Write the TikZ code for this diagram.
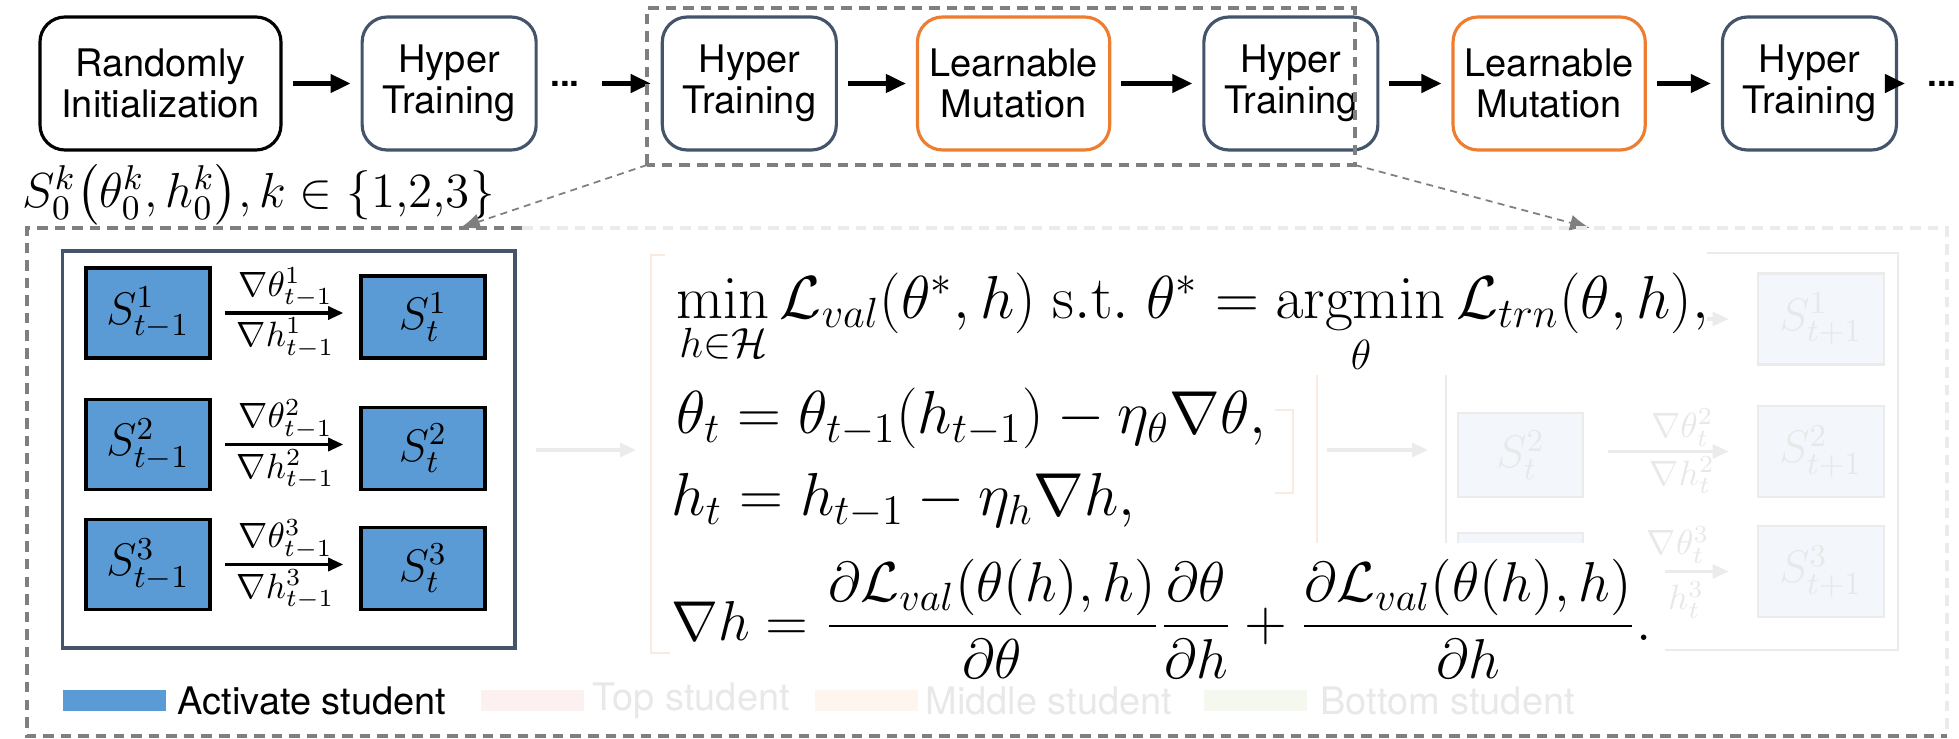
\RequirePackage{fix-cm}
\documentclass[tikz,border=0pt]{standalone}
\usepackage{amsmath}
\usepackage[no-math]{fontspec}
\setmainfont{TeX Gyre Heros}
\usetikzlibrary{arrows.meta,positioning}

\definecolor{slate}{HTML}{44546A}
\definecolor{mutorange}{HTML}{ED7D31}
\definecolor{stublue}{HTML}{5B9BD5}
\definecolor{framegray}{HTML}{7F7F7F}
\definecolor{fadeline}{HTML}{EBEBEB}
\definecolor{fadetext}{HTML}{E8E8E8}
\definecolor{fadeblue}{HTML}{F3F6FA}
\definecolor{fadeorange}{HTML}{FBEADF}
\definecolor{fadecream}{HTML}{FEF6EE}
\definecolor{fadepink}{HTML}{FDF0F0}
\definecolor{fadegreen}{HTML}{F4F8EF}

\tikzset{
  stage/.style={draw=slate, line width=0.9pt, rounded corners=2.5mm,
    minimum width=1.74cm, minimum height=1.33cm, align=center,
    font=\fontsize{10.8}{11.6}\selectfont},
  mutate/.style={stage, draw=mutorange},
  flow/.style={-{Triangle[length=2mm,width=1.8mm]}, line width=1.2pt,
    shorten <=1mm, shorten >=1mm},
  student/.style={draw=black, line width=1pt, fill=stublue,
    minimum width=1.24cm, font=\fontsize{13}{15}\selectfont},
  grad/.style={-{Triangle[length=1.5mm,width=1.3mm]}, line width=0.9pt,
    shorten <=1.3mm, shorten >=1.6mm},
  gradlbl/.style={font=\fontsize{10}{12}\selectfont, inner sep=1pt},
  zoomline/.style={framegray, line width=0.5pt, dash pattern=on 2pt off 1.5pt,
    -{Latex[length=2mm,width=1.6mm]}},
  frameline/.style={framegray, line width=0.9pt, dash pattern=on 3pt off 2pt},
  ghost/.style={draw=fadeline, line width=0.8pt, fill=fadeblue,
    minimum width=1.26cm, minimum height=0.91cm, text=fadetext,
    font=\fontsize{13}{15}\selectfont},
  fadearrow/.style={-{Triangle[length=1.6mm,width=1.4mm]}, fadeline, line width=0.9pt},
  keybox/.style={minimum width=1.03cm, minimum height=0.21cm, inner sep=0pt},
  keylbl/.style={inner sep=0pt, font=\fontsize{10.8}{12}\selectfont},
  eqline/.style={anchor=base west, inner sep=0pt, font=\fontsize{17.28}{20}\selectfont},
}

\begin{document}
\begin{tikzpicture}
  \useasboundingbox (0,0) rectangle (19.59,7.38);

  % training pipeline
  \node[stage, draw=black, minimum width=2.41cm] (init) at (1.605,6.545) {Randomly\\Initialization};
  \node[stage, right=0.78cm of init] (ht1) {Hyper\\Training};
  \node[font=\bfseries] (dots1) at (5.65,6.545) {...};
  \node[stage, right=1.23cm of ht1] (ht2) {Hyper\\Training};
  \node[mutate, right=0.78cm of ht2] (lm1) {Learnable\\Mutation};
  \node[stage, right=0.91cm of lm1] (ht3) {Hyper\\Training};
  \node[mutate, right=0.72cm of ht3] (lm2) {Learnable\\Mutation};
  \node[stage, right=0.74cm of lm2] (ht4) {Hyper\\Training};
  \node[font=\bfseries] (dots2) at (19.42,6.545) {...};
  \draw[flow] (init) -- (ht1);
  \draw[flow] (dots1) -- (ht2);
  \draw[flow] (ht2) -- (lm1);
  \draw[flow] (lm1) -- (ht3);
  \draw[flow] (ht3) -- (lm2);
  \draw[flow] (lm2) -- (ht4);
  \draw[flow] (ht4) -- (dots2);
  \node[anchor=west, font=\fontsize{14}{16}\selectfont] (init0) at (0.10,5.43)
    {$S^k_0\bigl(\theta^k_0,h^k_0\bigr),k\in\{1{,}2{,}3\}$};

  % zoomed step
  \draw[frameline] (6.47,5.73) coordinate (zsw) rectangle (13.55,7.30);
  \coordinate (zse) at (13.55,5.73);
  \coordinate (bigl) at (4.60,5.10);
  \coordinate (bigr) at (15.90,5.10);
  \draw[zoomline] (zsw) -- (bigl);
  \draw[zoomline] (zse) -- (bigr);
  \draw[frameline] (5.22,5.10) -- (0.27,5.10) -- (0.27,0.02) -- (19.47,0.02);
  \draw[frameline, fadeline] (5.22,5.10) -- (19.47,5.10) -- (19.47,0.02);

  % active students
  \draw[slate, line width=0.9pt] (0.625,0.90) rectangle (5.15,4.87);
  \node[student, minimum height=0.90cm] (a1) at (1.48,4.25) {$S^1_{t-1}$};
  \node[student, minimum height=0.82cm] (b1) at (4.23,4.21) {$S^1_t$};
  \node[student, minimum height=0.90cm] (a2) at (1.48,2.935) {$S^2_{t-1}$};
  \node[student, minimum height=0.82cm] (b2) at (4.23,2.895) {$S^2_t$};
  \node[student, minimum height=0.90cm] (a3) at (1.48,1.735) {$S^3_{t-1}$};
  \node[student, minimum height=0.82cm] (b3) at (4.23,1.695) {$S^3_t$};
  \draw[grad] (a1.east) -- (a1.east -| b1.west)
    node[midway, above, gradlbl] {$\nabla\theta^1_{t-1}$}
    node[midway, below, gradlbl] {$\nabla h^1_{t-1}$};
  \draw[grad] (a2.east) -- (a2.east -| b2.west)
    node[midway, above, gradlbl] {$\nabla\theta^2_{t-1}$}
    node[midway, below, gradlbl] {$\nabla h^2_{t-1}$};
  \draw[grad] (a3.east) -- (a3.east -| b3.west)
    node[midway, above, gradlbl] {$\nabla\theta^3_{t-1}$}
    node[midway, below, gradlbl] {$\nabla h^3_{t-1}$};

  % faded panels behind the equations
  \draw[fadearrow] (5.36,2.88) -- (6.36,2.88);
  \draw[fadeorange, line width=0.8pt] (6.65,4.83) -- (6.51,4.83) -- (6.51,0.85) -- (6.70,0.85);
  \draw[fadeorange, line width=0.8pt] (13.17,3.63) -- (13.17,1.95);
  \draw[fadeorange, line width=0.8pt] (12.75,3.28) -- (12.93,3.28) -- (12.93,2.45) -- (12.75,2.45);
  \draw[fadeline, line width=0.8pt] (14.46,3.63) -- (14.46,1.95);
  \draw[fadearrow] (13.27,2.88) -- (14.28,2.88);
  \node[ghost, minimum width=1.25cm, minimum height=0.84cm] (g2) at (15.205,2.83) {$S^2_t$};
  \fill[fadeblue] (14.58,1.95) rectangle (15.83,2.05);
  \draw[fadeline, line width=0.8pt] (14.58,1.95) |- (15.83,2.05) -- (15.83,1.95);
  \node[ghost] (r1) at (18.21,4.19) {$S^1_{t+1}$};
  \node[ghost] (r2) at (18.21,2.865) {$S^2_{t+1}$};
  \node[ghost] (r3) at (18.21,1.665) {$S^3_{t+1}$};
  \draw[fadearrow, shorten >=2.8mm] (17.07,4.19) -- (r1.west);
  \draw[fadearrow, shorten >=2.8mm] (16.08,2.865) -- (r2.west)
    node[midway, above, gradlbl, text=fadetext] {$\nabla\theta^2_t$}
    node[midway, below, gradlbl, text=fadetext] {$\nabla h^2_t$};
  \draw[fadearrow, shorten >=2.8mm] (16.65,1.665) -- (r3.west);
  \node[gradlbl, text=fadetext] at (16.78,1.93) {$\nabla\theta^3_t$};
  \node[gradlbl, text=fadetext] at (16.86,1.38) {$h^3_t$};
  \draw[fadeline, line width=0.8pt] (17.07,4.85) -- (18.98,4.85) -- (18.98,0.88) -- (16.65,0.88);

  % bilevel update
  \node[eqline] (eqmin) at (6.76,4.20)
    {$\min\limits_{h\in\mathcal{H}}\mathcal{L}_{val}(\theta^*,h)\ \mathrm{s.t.}\ \theta^*=\mathop{\mathrm{argmin}}\limits_{\theta}\mathcal{L}_{trn}(\theta,h),$};
  \node[eqline] (eqtheta) at (6.76,3.05)
    {$\theta_t=\theta_{t-1}(h_{t-1})-\eta_\theta\nabla\theta,$};
  \node[eqline] (eqh) at (6.71,2.23)
    {$h_t=h_{t-1}-\eta_h\nabla h,$};
  \node[eqline, font=\fontsize{16}{19}\selectfont] (eqgrad) at (6.71,0.98)
    {$\displaystyle\nabla h=\frac{\partial\mathcal{L}_{val}(\theta(h),h)}{\partial\theta}\frac{\partial\theta}{\partial h}+\frac{\partial\mathcal{L}_{val}(\theta(h),h)}{\partial h}.$};

  % legend
  \node[keybox, fill=stublue] (actkey) at (1.14,0.375) {};
  \node[keylbl, right=0.11cm of actkey] (actlbl) {Activate student};
  \node[keybox, fill=fadepink] (topkey) at (5.32,0.375) {};
  \node[keylbl, right=0.08cm of topkey, text=fadetext] (toplbl) {Top student};
  \node[keybox, fill=fadecream] (midkey) at (8.665,0.375) {};
  \node[keylbl, right=0.06cm of midkey, text=fadetext] (midlbl) {Middle student};
  \node[keybox, fill=fadegreen] (botkey) at (12.555,0.375) {};
  \node[keylbl, right=0.12cm of botkey, text=fadetext] (botlbl) {Bottom student};
\end{tikzpicture}
\end{document}
